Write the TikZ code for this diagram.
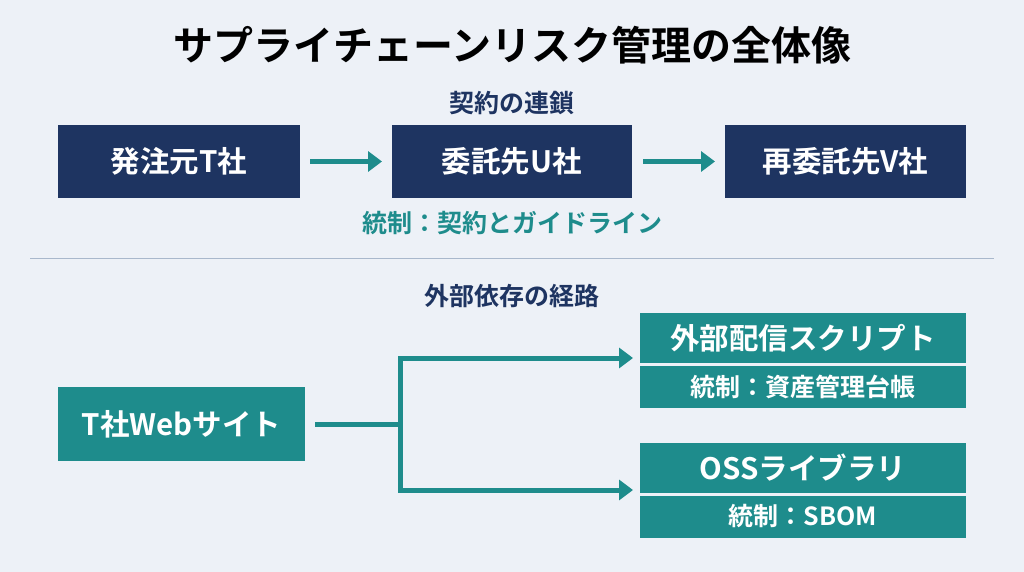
\documentclass[tikz,border=0pt]{standalone}
\usepackage{fontspec}
\setmainfont{Noto Sans CJK JP}[BoldFont={* Bold}]
\usetikzlibrary{arrows.meta}
\definecolor{bg}{HTML}{EDF1F7}
\definecolor{navy}{HTML}{1E3461}
\definecolor{teal}{HTML}{1E8C8C}
\definecolor{rule}{HTML}{A9B8CC}
\begin{document}
\begin{tikzpicture}[x=1pt,y=-1pt,
  nbox/.style={fill=navy,text=white,font=\bfseries\fontsize{29.5}{32}\selectfont,inner sep=0},
  tbox/.style={fill=teal,text=white,font=\bfseries\fontsize{29.5}{32}\selectfont,inner sep=0},
  sbox/.style={fill=teal,text=white,font=\bfseries\fontsize{25}{28}\selectfont,inner sep=0},
  arr/.style={teal,line width=5pt,-{Triangle[length=14pt,width=20pt]}},
  lbl/.style={font=\bfseries\fontsize{25}{28}\selectfont}]
\fill[bg] (0,0) rectangle (1024,572);
\useasboundingbox (0,0) rectangle (1024,572);
\node[font=\bfseries\fontsize{40}{46}\selectfont] (title) at (512,45) {サプライチェーンリスク管理の全体像};
\node[lbl,text=navy] (l1) at (512,103) {契約の連鎖};
\node[nbox,minimum width=242pt,minimum height=73pt] (a) at (179,161.5) {発注元T社};
\node[nbox,minimum width=240pt,minimum height=73pt] (b) at (512,161.5) {委託先U社};
\node[nbox,minimum width=241pt,minimum height=73pt] (c) at (845.5,161.5) {再委託先V社};
\draw[arr] (310,161.5) -- (382,161.5);
\draw[arr] (643,161.5) -- (715,161.5);
\node[lbl,text=teal] (l2) at (512,223) {統制：契約とガイドライン};
\draw[rule,line width=1pt] (30,258) -- (994,258);
\node[lbl,text=navy] (l3) at (512,296) {外部依存の経路};
\node[tbox,minimum width=247pt,minimum height=74pt] (w) at (181.5,424) {T社Webサイト};
\node[tbox,minimum width=326pt,minimum height=50pt] (s1) at (803,338) {外部配信スクリプト};
\node[sbox,minimum width=326pt,minimum height=42pt] (s1b) at (803,387) {統制：資産管理台帳};
\node[tbox,minimum width=326pt,minimum height=50pt] (s2) at (803,468) {OSSライブラリ};
\node[sbox,minimum width=326pt,minimum height=42pt] (s2b) at (803,516.5) {統制：SBOM};
\coordinate (j) at (400,424);
\draw[teal,line width=5pt] (w.east)++(10,0) -- (j);
\draw[arr] (400,424) |- (633,358);
\draw[arr] (400,424) |- (633,490);
\end{tikzpicture}
\end{document}
